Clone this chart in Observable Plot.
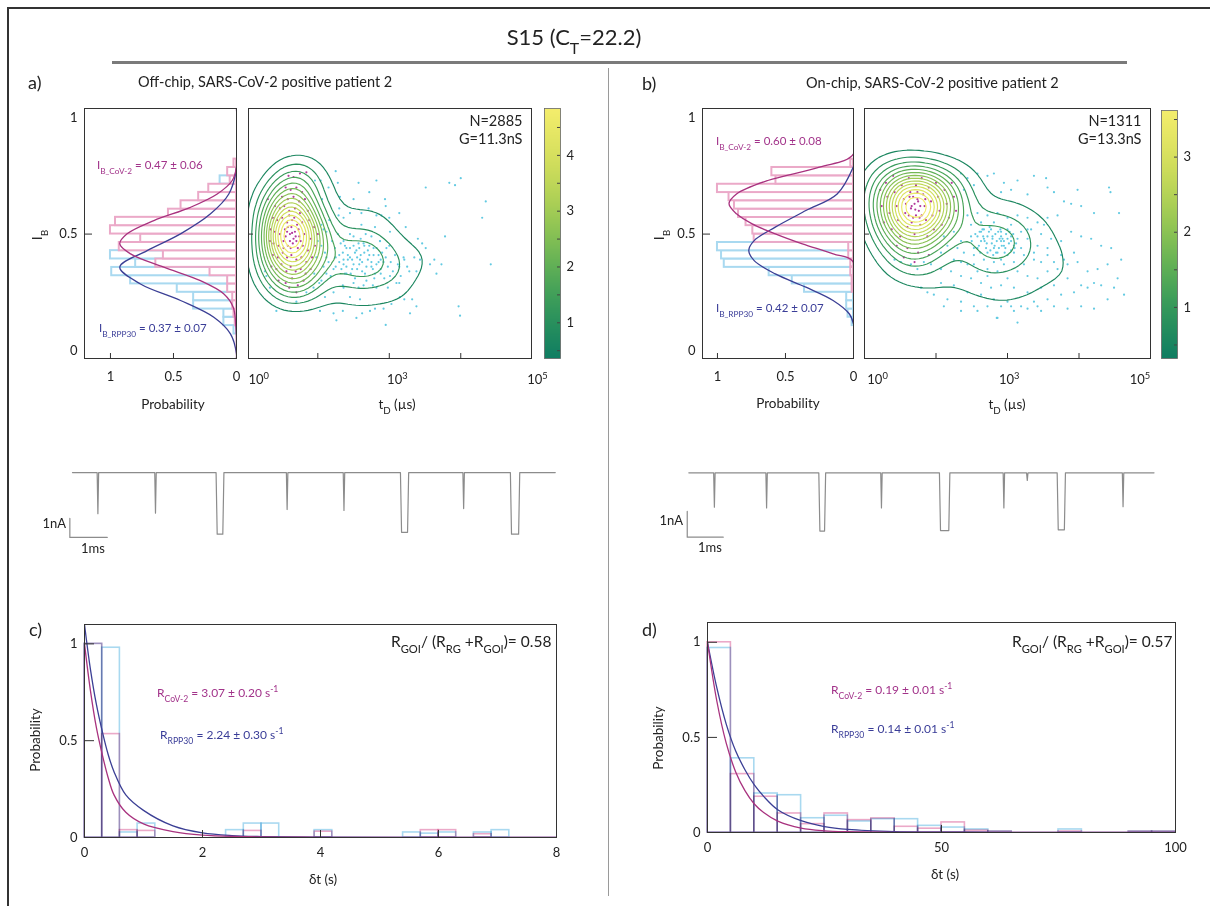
<!DOCTYPE html>
<html><head><meta charset="utf-8">
<script src="https://cdn.jsdelivr.net/npm/d3@7"></script>
<script src="https://cdn.jsdelivr.net/npm/@observablehq/plot@0.6"></script>
<style>
body{margin:0;background:#fff;}
#page{position:relative;width:1210px;height:906px;overflow:hidden;font-family:Lato,"Open Sans",sans-serif;color:#222;background:#fff;}
.abs{position:absolute;white-space:nowrap;line-height:1;}
.s{font-size:0.72em;position:relative;top:0.55em;}
.p{font-size:0.72em;position:relative;top:-0.55em;}
.deco{position:absolute;}
</style></head><body><div id="page"></div>
<script>
// ======================= DATA =======================
// I_B histograms (panels a, b): bin centres, normalised probability
const ibBins = [0.089,0.125,0.161,0.196,0.232,0.268,0.304,0.339,0.375,0.411,0.446,0.482,0.518,0.554,0.589,0.625,0.661,0.696,0.732,0.768,0.804];
const ibBinHeight = 0.0357;
const aHistCoV = [0,0.01,0.02,0.03,0.03,0.07,0.07,0.21,0.64,0.58,0.93,0.76,1.0,0.96,0.54,0.44,0.30,0.22,0.05,0.07,0.02];
const aHistRPP = [0.02,0.10,0.10,0.34,0.34,0.47,0.84,0.99,0.80,1.0,0.68,0.55,0.41,0.25,0.20,0.15,0.12,0.10,0.13,0.05,0];
const bHistCoV = [0,0,0,0,0,0.01,0.01,0.02,0.02,0.035,0.035,0.73,0.74,0.79,0.845,0.875,0.915,1.0,0.57,0.60,0.02];
const bHistRPP = [0,0.01,0.04,0.05,0.05,0.36,0.45,0.62,0.95,0.97,1.0,0.70,0.55,0.45,0.35,0.25,0.22,0.15,0.12,0.05,0];
// Gaussian fit curves: [I_B, probability]
const aFitCoV = [[1.04,0],[0.789,0],[0.730,0.034],[0.672,0.153],[0.615,0.365],[0.558,0.656],[0.501,0.868],[0.458,0.926],[0.415,0.84],[0.358,0.577],[0.300,0.286],[0.243,0.10],[0.186,0.026],[0.100,0.005],[-0.034,0]];
const aFitRPP = [[1.04,0],[0.783,0],[0.672,0.061],[0.587,0.206],[0.501,0.444],[0.429,0.709],[0.358,0.926],[0.286,0.762],[0.215,0.444],[0.143,0.18],[0.072,0.048],[-0.014,0],[-0.034,0]];
const bFitCoV = [[1.04,0],[0.844,0],[0.787,0.25],[0.730,0.63],[0.672,0.86],[0.630,0.915],[0.587,0.86],[0.544,0.745],[0.501,0.575],[0.458,0.376],[0.415,0.149],[0.379,0],[-0.034,0]];
const bFitRPP = [[0.79,0],[0.672,0.12],[0.601,0.35],[0.530,0.575],[0.472,0.73],[0.430,0.77],[0.386,0.73],[0.329,0.575],[0.272,0.35],[0.215,0.15],[0.157,0.03],[0.115,0]];
const ibFitLabels = {a: ["0.47 ± 0.06", "0.37 ± 0.07"], b: ["0.60 ± 0.08", "0.42 ± 0.07"]};

// Scatter (log10 t_D in µs, I_B)
const aCyan = [[1.25,0.77],[0.96,0.73],[1.04,0.73],[1.28,0.72],[1.57,0.72],[1.82,0.73],[1.15,0.70],[2.51,0.70],[2.84,0.72],[2.92,0.71],[3.00,0.74],
[1.06,0.65],[1.31,0.66],[1.72,0.68],[1.50,0.65],[1.94,0.65],[1.95,0.62],[1.30,0.61],[1.71,0.61],[1.82,0.58],[3.35,0.64],[3.30,0.57],
[2.14,0.59],[2.00,0.57],[1.89,0.58],[1.61,0.59],[1.45,0.59],[1.29,0.58],[1.16,0.56],[1.05,0.54],[1.08,0.52],[1.36,0.57],[1.61,0.54],[1.80,0.53],[2.23,0.53],[2.01,0.51],
[2.40,0.48],[2.78,0.49],[2.46,0.46],[2.51,0.44],[2.35,0.40],[2.21,0.39],[2.43,0.39],[2.63,0.39],[2.73,0.37],[3.42,0.37],[2.28,0.34],[2.57,0.37],[2.66,0.33],[2.38,0.34],[2.14,0.36],
[2.01,0.32],[1.88,0.33],[1.79,0.31],[2.14,0.29],[1.98,0.27],[2.15,0.23],[2.21,0.22],[2.32,0.22],[2.38,0.19],[2.29,0.16],[2.03,0.20],[1.92,0.18],[1.80,0.18],[1.73,0.17],[1.62,0.16],[1.54,0.14],
[1.35,0.17],[1.26,0.13],[1.22,0.16],[1.03,0.17],[0.70,0.21],[0.42,0.17],[2.97,0.19],[2.99,0.15],[1.95,0.11],
[0.94,0.27],[0.84,0.25],[1.05,0.30],[1.12,0.33],[1.22,0.35],[1.36,0.37],[1.45,0.40],[1.54,0.43],[1.64,0.46],[1.75,0.49],[1.87,0.47],[1.96,0.44],[1.12,0.40],[1.24,0.44],[1.36,0.47],[1.50,0.49],[1.59,0.39],[1.40,0.33],[1.50,0.29],[1.64,0.28],[1.82,0.27],[1.36,0.27],[1.22,0.25],[1.10,0.23],[1.59,0.22],[1.45,0.23],
[0.26,0.34],[0.28,0.32],[0.33,0.27],
[1.05,0.45],[1.10,0.42],[1.15,0.38],[1.20,0.47],[1.25,0.36],[1.30,0.41],[1.32,0.46],[1.38,0.33],[1.40,0.44],[1.42,0.39],[1.48,0.35],[1.50,0.45],[1.52,0.31],[1.55,0.40],[1.58,0.37],[1.60,0.48],[1.62,0.34],[1.65,0.42],[1.68,0.30],[1.70,0.39],[1.72,0.45],[1.75,0.36],[1.78,0.41],[1.80,0.33],[1.82,0.44],[1.85,0.38],[1.88,0.35],[1.90,0.42],[1.93,0.31],[1.95,0.40],[1.98,0.36],[2.02,0.38],[2.05,0.34],[2.08,0.41],[2.12,0.37],[2.16,0.32],[2.20,0.40],[1.12,0.51],[1.18,0.32],[1.28,0.50],[1.35,0.28],[1.45,0.50],[1.57,0.27],[1.67,0.50],[1.77,0.28],[1.87,0.47],[2.00,0.45],[2.10,0.29],[2.25,0.36],[1.08,0.36],[0.98,0.40],[1.00,0.47],[0.95,0.33],[1.02,0.29],
[1.30,0.38],[1.35,0.42],[1.40,0.36],[1.45,0.44],[1.48,0.39],[1.52,0.42],[1.55,0.35],[1.58,0.44],[1.62,0.38],[1.65,0.45],[1.68,0.36],[1.72,0.41],[1.75,0.38],[1.78,0.44],[1.82,0.37],[1.85,0.41],[1.88,0.39],[1.42,0.41],[1.38,0.45],[1.60,0.41],[1.70,0.43],[1.50,0.37],[1.33,0.35],[1.92,0.38],[1.66,0.33],[1.46,0.33],[1.57,0.46],[1.77,0.35],[1.25,0.40],[1.36,0.39]];
const aPink = [[0.59,0.75],[0.66,0.745],[0.75,0.76],[0.84,0.765],[0.55,0.70],[0.62,0.69],[0.70,0.70],[0.78,0.68],[0.50,0.66],[0.58,0.65],[0.66,0.66],[0.74,0.64],[0.82,0.65],[0.30,0.65],[0.40,0.62],[0.47,0.61],[0.53,0.62],[0.60,0.60],[0.68,0.61],[0.75,0.59],[0.86,0.60],[0.37,0.57],[0.43,0.56],[0.50,0.57],[0.57,0.55],[0.64,0.56],[0.71,0.54],[0.78,0.55],[0.88,0.56],[0.95,0.53],[0.34,0.52],[0.40,0.51],[0.47,0.50],[0.54,0.52],[0.61,0.50],[0.68,0.51],[0.74,0.49],[0.81,0.50],[0.90,0.48],[1.00,0.50],[0.33,0.47],[0.38,0.46],[0.45,0.45],[0.52,0.47],[0.58,0.45],[0.65,0.46],[0.72,0.44],[0.79,0.45],[0.86,0.43],[0.96,0.45],[0.37,0.41],[0.44,0.40],[0.51,0.42],[0.57,0.40],[0.63,0.41],[0.70,0.39],[0.77,0.40],[0.84,0.38],[0.92,0.40],[0.35,0.36],[0.42,0.35],[0.49,0.37],[0.56,0.34],[0.62,0.36],[0.69,0.34],[0.76,0.35],[0.83,0.33],[0.90,0.35],[0.45,0.30],[0.55,0.29],[0.64,0.31],[0.72,0.28],[0.80,0.30],[0.60,0.27],[0.70,0.25],[0.58,0.53],[0.66,0.48],[0.63,0.53],[0.70,0.47],[0.55,0.49],[0.62,0.44],[0.67,0.57],[0.73,0.52],[0.60,0.58],[0.76,0.47],[0.52,0.44],[0.64,0.505],[0.69,0.49],[0.61,0.47],[0.57,0.51]];
const bCyan = [[1.35,0.76],[1.44,0.74],[1.58,0.76],[1.72,0.75],[1.81,0.76],[1.95,0.72],[2.14,0.73],[2.37,0.75],[2.54,0.74],[2.56,0.70],[2.65,0.68],[2.79,0.64],[2.89,0.63],[3.03,0.62],[3.21,0.59],[3.42,0.70],[3.44,0.68],[3.56,0.59],[2.98,0.69],[2.28,0.67],[2.05,0.69],[1.91,0.68],[1.53,0.71],[1.39,0.69],
[1.11,0.49],[1.25,0.51],[1.35,0.47],[1.49,0.49],[1.63,0.51],[1.77,0.52],[1.91,0.51],[2.05,0.49],[2.19,0.51],[2.33,0.52],[2.47,0.50],[2.61,0.48],[2.75,0.47],[2.89,0.51],[3.03,0.49],[3.17,0.48],[3.31,0.45],[3.45,0.44],[3.59,0.39],[2.93,0.42],[2.75,0.41],[2.56,0.41],[2.37,0.39],[2.23,0.41],[2.09,0.38],[1.95,0.37],[1.81,0.38],[1.67,0.39],[1.53,0.41],[1.39,0.42],[1.30,0.44],[1.16,0.45],[1.07,0.42],[1.25,0.39],[1.44,0.37],[1.58,0.34],[1.72,0.32],[1.86,0.34],[2.00,0.31],[2.14,0.34],[2.28,0.32],[2.42,0.31],[2.56,0.34],[2.70,0.35],[2.84,0.37],[2.98,0.38],[3.12,0.34],[3.26,0.35],[3.40,0.37],[3.54,0.31],[3.21,0.29],[3.03,0.28],[2.84,0.31],[2.65,0.28],[2.47,0.27],[2.28,0.25],[2.09,0.27],[1.91,0.28],[1.77,0.27],[1.63,0.29],[1.49,0.31],[1.35,0.32],[1.21,0.34],[1.07,0.35],[0.93,0.37],[0.83,0.38],[0.74,0.35],[0.65,0.37],[0.51,0.38],[0.42,0.39],
[0.79,0.27],[0.88,0.25],[1.07,0.29],[1.25,0.28],[1.44,0.25],[1.63,0.24],[1.81,0.22],[2.00,0.21],[2.19,0.19],[2.37,0.21],[2.56,0.22],[2.75,0.24],[2.93,0.25],[3.12,0.27],[3.31,0.28],[3.49,0.27],[3.63,0.24],[3.03,0.19],[2.84,0.18],[2.65,0.19],[2.47,0.17],[2.28,0.18],[2.09,0.17],[1.91,0.19],[1.72,0.19],[1.53,0.19],[1.35,0.21],[1.16,0.22],[0.97,0.24],[1.11,0.19],[1.35,0.17],[1.58,0.17],[1.86,0.14],[2.14,0.12],[2.42,0.19],[3.21,0.18],[3.40,0.22],[2.05,0.19],[1.85,0.14],
[1.44,0.58],[1.58,0.59],[1.72,0.58],[1.86,0.59],[2.00,0.57],[2.14,0.58],[2.28,0.57],[2.42,0.55],[2.56,0.57],[2.70,0.58],[1.63,0.55],[1.81,0.55],[2.05,0.54],[2.28,0.52],[2.51,0.54],[1.49,0.54],[1.67,0.48],[1.91,0.47],[2.09,0.45],[2.28,0.48],[2.42,0.45],[2.56,0.44],[1.58,0.44],[1.81,0.44],[2.00,0.41],[2.19,0.44],[2.37,0.42],[1.35,0.38],[1.53,0.37],[1.72,0.35],[1.91,0.39],[2.09,0.42],[2.23,0.37],[2.47,0.38],[2.65,0.38],[2.79,0.39],[1.86,0.42],[2.05,0.47],[1.72,0.42],[1.63,0.47],[1.95,0.45],[2.14,0.48],[1.79,0.49],[1.91,0.49],[2.00,0.52],[1.67,0.52],
[1.50,0.47],[1.55,0.50],[1.60,0.45],[1.65,0.52],[1.70,0.44],[1.72,0.49],[1.75,0.53],[1.78,0.46],[1.80,0.41],[1.83,0.50],[1.85,0.47],[1.88,0.44],[1.90,0.52],[1.93,0.48],[1.96,0.42],[1.98,0.50],[2.02,0.46],[2.05,0.43],[2.08,0.50],[2.12,0.46],[1.58,0.49],[1.62,0.42],[1.68,0.47],[1.76,0.43],[1.82,0.45],[1.87,0.51],[1.92,0.45],[2.00,0.48],[1.74,0.51],[1.95,0.47],[1.66,0.49],[1.84,0.42],[2.10,0.44],[1.53,0.44],[1.79,0.48],[1.89,0.48],[1.71,0.46],[2.03,0.51],[1.61,0.51],[1.97,0.44]];
const bPink = [[0.22,0.69],[0.24,0.62],[0.27,0.55],[0.30,0.72],[0.32,0.66],[0.35,0.59],[0.38,0.52],[0.40,0.75],[0.42,0.68],[0.45,0.62],[0.47,0.56],[0.50,0.49],[0.52,0.71],[0.55,0.65],[0.57,0.59],[0.60,0.53],[0.62,0.74],[0.64,0.68],[0.66,0.62],[0.68,0.57],[0.70,0.50],[0.72,0.71],[0.74,0.65],[0.76,0.60],[0.78,0.54],[0.80,0.74],[0.82,0.67],[0.84,0.62],[0.86,0.56],[0.88,0.49],[0.90,0.70],[0.93,0.64],[0.95,0.58],[0.97,0.52],[1.00,0.72],[1.03,0.66],[1.05,0.60],[1.08,0.54],[1.12,0.69],[1.15,0.63],[1.18,0.57],[1.22,0.72],[1.25,0.66],[1.28,0.60],[0.45,0.45],[0.60,0.44],[0.75,0.42],[0.90,0.41],[0.55,0.40],[0.70,0.38],[0.65,0.61],[0.70,0.63],[0.75,0.64],[0.68,0.66],[0.72,0.58],[0.78,0.62],[0.62,0.58],[0.80,0.58],[0.66,0.55],[0.74,0.68],[0.58,0.63],[0.85,0.65],[0.71,0.605],[0.77,0.57],[0.63,0.66]];
const aPinkWeight = 5, bPinkWeight = 7.5;
const aBandwidth = 14, bBandwidth = 17;
const scatterNotes = {a: "N=2885\nG=11.3nS", b: "N=1311\nG=13.3nS"};
const logTickMarks = [1, 2, 3];
const logTickLabels = ["10<span class=p>0</span>", "10<span class=p>3</span>", "10<span class=p>5</span>"];
const aLogLabelPos = [0.18, 2.12, 4.08];
const bLogLabelPos = [0.19, 2.03, 3.86];

// Colour bars
const aColorDomain = [0.36, 4.84], aColorTicks = [1, 2, 3, 4], aColorMinor = [0.5, 1.5, 2.5, 3.5, 4.5];
const bColorDomain = [0.32, 3.62], bColorTicks = [1, 2, 3], bColorMinor = [0.5, 1.5, 2.5, 3.5];
const colormap = ["#0f7d62", "#3a9e59", "#8ac352", "#cfdc58", "#f4ed6c"];

// Current traces: event start / end (ms) and depth (nA)
const aEvtStart = [0.66, 2.20, 3.84, 5.72, 7.24, 8.77, 10.44, 11.71];
const aEvtEnd   = [0.70, 2.24, 4.05, 5.76, 7.28, 8.99, 10.48, 11.96];
const aEvtDepth = [2.17, 2.14, 3.25, 1.95, 2.00, 3.15, 1.90, 3.25];
const aTraceEnd = 12.91;
const aScaleBar = [-0.07, -3.42];
const bEvtStart = [0.69, 2.14, 3.61, 5.33, 6.96, 8.73, 9.38, 10.23, 12.04];
const bEvtEnd   = [0.73, 2.18, 3.80, 5.37, 7.25, 8.77, 9.42, 10.46, 12.08];
const bEvtDepth = [1.34, 1.37, 2.27, 1.37, 2.25, 1.37, 0.30, 2.22, 1.32];
const bTraceEnd = 12.92;
const bScaleBar = [-0.044, -2.506];

// Inter-event time histograms (panels c, d): bin left edges, normalised probability
const cBinLeft = [0,0.3,0.6,0.9,1.2,1.5,1.8,2.1,2.4,2.7,3.0,3.3,3.6,3.9,4.2,4.5,4.8,5.1,5.4,5.7,6.0,6.3,6.6,6.9,7.2,7.5,7.8];
const cBinWidth = 0.3;
const cCoV = [1.0,0.534,0.038,0.034,0,0,0,0,0,0.034,0,0,0,0.03,0,0,0,0,0,0.038,0.038,0,0.017,0,0,0,0];
const cRPP = [1.0,0.98,0.026,0.072,0,0,0,0,0.038,0.072,0.072,0,0,0.038,0,0,0,0,0.026,0.02,0.026,0,0.026,0.038,0,0,0];
const dBinLeft = [0,5,10,15,20,25,30,35,40,45,50,55,60,65,70,75,80,85,90,95];
const dBinWidth = 5;
const dCoV = [1.0,0.307,0.188,0.10,0.044,0.10,0.065,0.074,0.03,0.02,0.053,0.01,0.005,0,0,0.005,0,0,0.005,0.005];
const dRPP = [0.97,0.39,0.205,0.196,0.075,0.088,0.058,0.07,0.07,0.035,0.026,0.016,0.005,0,0,0.016,0,0,0.005,0.005];
// Exponential fit curves: [δt, probability]
const cFitCoV = [[0,1.0],[0.1,0.76],[0.2,0.57],[0.3,0.43],[0.4,0.31],[0.5,0.22],[0.7,0.13],[1.0,0.07],[1.5,0.03],[2.0,0.012],[3,0.003],[4,0.001],[8,0]];
const cFitRPP = [[0,1.10],[0.1,0.87],[0.2,0.69],[0.3,0.55],[0.4,0.43],[0.5,0.34],[0.7,0.22],[1.0,0.14],[1.5,0.06],[2.0,0.024],[2.5,0.01],[3,0.005],[4,0.002],[8,0]];
const dFitCoV = [[0,1.0],[2,0.69],[4,0.47],[6,0.32],[8,0.22],[10,0.15],[12,0.105],[15,0.06],[20,0.023],[25,0.009],[30,0.004],[40,0.001],[60,0],[100,0]];
const dFitRPP = [[0,1.0],[2,0.76],[4,0.57],[6,0.43],[8,0.33],[10,0.25],[12,0.19],[15,0.12],[20,0.062],[25,0.031],[30,0.016],[40,0.005],[60,0.001],[100,0]];
const rateLabels = {c: ["3.07 ± 0.20", "2.24 ± 0.30", "0.58"], d: ["0.19 ± 0.01", "0.14 ± 0.01", "0.57"]};

// ======================= STYLE =======================
const COL = {pinkBar:"#eba9c8", blueBar:"#a9d9f0", pinkLine:"#a8327f", blueLine:"#3b3f95",
  pinkText:"#a2338a", blueText:"#3a3d98", cyan:"#62cae2", magentaPt:"#b23a9c", frame:"#333", trace:"#8c8c8c"};
const cmapInterp = d3.interpolateRgbBasis(colormap);
const page = document.getElementById("page");
const ibDomain = [-0.034, 1.039];
const fmt = d => String(d);

function mkPlot(frame, pad, opts) {
  const [x0,y0,x1,y1] = frame, [pt,pr,pb,pl] = pad;
  const p = Plot.plot({
    width: x1-x0+pl+pr, height: y1-y0+pt+pb,
    marginTop: pt, marginRight: pr, marginBottom: pb, marginLeft: pl,
    style: {background:"transparent", fontFamily:"Lato, 'Open Sans', sans-serif", fontSize:"13px", color:"#222", overflow:"visible"},
    ...opts
  });
  p.style.position = "absolute"; p.style.left = (x0-pl)+"px"; p.style.top = (y0-pt)+"px";
  page.appendChild(p);
  p._left = x0-pl; p._top = y0-pt;
  return p;
}
function label(html, x, y, {size=13, anchor="middle", color="#222", rotate=0}={}) {
  const d = document.createElement("div");
  d.className = "abs"; d.innerHTML = html;
  d.style.fontSize = size+"px"; d.style.color = color;
  d.style.left = x+"px"; d.style.top = y+"px";
  const tx = anchor==="middle" ? "-50%" : anchor==="end" ? "-100%" : "0";
  d.style.transform = `translate(${tx},-50%)` + (rotate ? ` rotate(${rotate}deg)` : "");
  page.appendChild(d);
  return d;
}
function deco(x, y, w, h, color) {
  const d = document.createElement("div"); d.className = "deco";
  Object.assign(d.style, {left:x+"px", top:y+"px", width:w+"px", height:h+"px", background:color});
  page.appendChild(d);
}

// ======================= PAGE DECOR =======================
deco(7, 7, 1.5, 899, "#333");
deco(7, 7, 1203, 1.5, "#333");
deco(112, 60.5, 1015, 3, "#7a7a7a");
deco(607.5, 68, 1.5, 828, "#9a9a9a");
label("S15 (C<span class=s>T</span>=22.2)", 574, 37, {size: 22});
label("a)", 28, 82, {size: 18, anchor: "start"});
label("Off-chip, SARS-CoV-2 positive patient 2", 138, 82, {size: 14.5, anchor: "start"});
label("b)", 642, 83, {size: 18, anchor: "start"});
label("On-chip, SARS-CoV-2 positive patient 2", 806, 83, {size: 14.5, anchor: "start"});
label("c)", 29, 629, {size: 18, anchor: "start"});
label("d)", 642, 629, {size: 18, anchor: "start"});

// ======================= I_B HISTOGRAMS =======================
function histPanel(frame, xMax, covP, rppP, fitCoV, fitRPP) {
  const w = frame[2]-frame[0], h = frame[3]-frame[1];
  const rows = vals => ibBins.map((I,k) => ({I, p: vals[k]})).filter(d => d.p > 0);
  const bar = (vals, stroke) => Plot.rect(rows(vals), {x1: 0, x2: "p", y1: d => d.I - ibBinHeight/2, y2: d => d.I + ibBinHeight/2, fill: "white", stroke, strokeWidth: 2});
  return mkPlot(frame, [12, 6, 60, 60], {
    x: {domain: [xMax, 0], label: null}, y: {domain: ibDomain, label: null},
    marks: [
      bar(rppP, COL.blueBar),
      bar(covP, COL.pinkBar),
      Plot.line(fitRPP, {x: d => d[1], y: d => d[0], stroke: COL.blueLine, strokeWidth: 1.3, curve: "catmull-rom", clip: true}),
      Plot.line(fitCoV, {x: d => d[1], y: d => d[0], stroke: COL.pinkLine, strokeWidth: 1.3, curve: "catmull-rom", clip: true}),
      Plot.frame({stroke: COL.frame}),
      Plot.axisX([1, 0.5, 0], {tickSize: 0, tickPadding: 13, fontSize: 13, label: null, tickFormat: fmt}),
      Plot.tickX([1, 0.5, 0], {insetTop: h-5, stroke: COL.frame}),
      Plot.axisY([0, 0.5, 1], {tickSize: 0, tickPadding: 7, fontSize: 13, label: null, tickFormat: fmt}),
      Plot.tickY([0.5], {insetRight: w-8, stroke: COL.frame})
    ]
  });
}
histPanel([84,108,236,358], 1.206, aHistCoV, aHistRPP, aFitCoV, aFitRPP);
histPanel([702,108,853,358], 1.11, bHistCoV, bHistRPP, bFitCoV, bFitRPP);
function fitText(name, val, x, y, color) {
  label(`I<span class=s>B_${name}</span> = ${val}`, x, y, {size: 11.5, anchor: "start", color});
}
fitText("CoV-2", ibFitLabels.a[0], 97, 165, COL.pinkText);
fitText("RPP30", ibFitLabels.a[1], 99, 328, COL.blueText);
fitText("CoV-2", ibFitLabels.b[0], 716, 141, COL.pinkText);
fitText("RPP30", ibFitLabels.b[1], 716, 308, COL.blueText);
label("I<span class=s>B</span>", 37, 235, {size: 14, rotate: -90});
label("I<span class=s>B</span>", 659, 235, {size: 14, rotate: -90});
label("Probability", 173, 405, {size: 13.5});
label("Probability", 788, 404, {size: 13.5});

// ======================= SCATTERS =======================
function scatterPanel(frame, xDomain, cyan, pink, pinkWeight, bandwidth, note, labelPos) {
  const w = frame[2]-frame[0], h = frame[3]-frame[1];
  const pts = cyan.map(([x,y]) => ({x, y, w: 1})).concat(pink.map(([x,y]) => ({x, y, w: pinkWeight})));
  const p = mkPlot(frame, [10, 10, 60, 10], {
    x: {domain: xDomain, axis: null}, y: {domain: ibDomain, axis: null},
    color: {type: "linear", interpolate: cmapInterp},
    marks: [
      Plot.dot(cyan, {x: d => d[0], y: d => d[1], r: 1.1, fill: COL.cyan, stroke: null}),
      Plot.dot(pink, {x: d => d[0], y: d => d[1], r: 1.1, fill: COL.magentaPt, stroke: null}),
      Plot.density(pts, {x: "x", y: "y", weight: "w", bandwidth, thresholds: 15, stroke: "density", strokeWidth: 1.15, clip: true}),
      Plot.frame({stroke: COL.frame}),
      Plot.tickX(logTickMarks, {insetTop: h-5, stroke: COL.frame}),
      Plot.tickY([0.5], {insetRight: w-5, stroke: COL.frame}),
      Plot.text([note], {frameAnchor: "top-right", textAnchor: "end", lineAnchor: "top", dx: -9, dy: 5, fontSize: 14.5, lineHeight: 1.25, fill: "#222"})
    ]
  });
  const sx = p.scale("x");
  labelPos.forEach((v, i) => label(logTickLabels[i], p._left + sx.apply(v), frame[3] + 21, {size: 13}));
  return p;
}
scatterPanel([248,108,531,358], [0.03, 3.99], aCyan, aPink, aPinkWeight, aBandwidth, scatterNotes.a, aLogLabelPos);
scatterPanel([864,108,1150,358], [0, 4.0], bCyan, bPink, bPinkWeight, bBandwidth, scatterNotes.b, bLogLabelPos);
label("t<span class=s>D</span> (µs)", 397, 405, {size: 13.5});
label("t<span class=s>D</span> (µs)", 1007, 405, {size: 13.5});

// ======================= COLOUR BARS =======================
function colorbar(frame, domain, ticks, minor) {
  const w = frame[2]-frame[0];
  mkPlot(frame, [4, 30, 4, 2], {
    x: {domain: [0, 1], axis: null}, y: {domain, label: null},
    color: {type: "linear", domain, interpolate: cmapInterp},
    marks: [
      Plot.raster({fill: (x, y) => y, x1: 0, x2: 1, y1: domain[0], y2: domain[1], width: 2, height: 250}),
      Plot.frame({stroke: "#666", strokeWidth: 0.8}),
      Plot.tickY(minor.concat(ticks), {insetLeft: w-3, stroke: "#444"}),
      Plot.axisY(ticks, {anchor: "right", tickSize: 0, tickPadding: 6, fontSize: 13, label: null, tickFormat: fmt})
    ]
  });
}
colorbar([544,108,560,358], aColorDomain, aColorTicks, aColorMinor);
colorbar([1161,110,1177,358], bColorDomain, bColorTicks, bColorMinor);

// ======================= TRACES =======================
function buildTrace(starts, ends, depths, tEnd) {
  const pts = [[0, 0]];
  starts.forEach((s, k) => {
    const e = ends[k], d = depths[k], r = Math.min(0.03, (e - s) / 2);
    pts.push([s, 0], [s + r, -d], [e - r, -d], [e, 0]);
  });
  pts.push([tEnd, 0]);
  return pts;
}
function tracePanel(frame, tDomain, iDomain, trace, bar) {
  const [t0, i0] = bar;
  return mkPlot(frame, [0, 0, 0, 0], {
    x: {domain: tDomain, axis: null}, y: {domain: iDomain, axis: null},
    marks: [
      Plot.line(trace, {x: d => d[0], y: d => d[1], stroke: COL.trace, strokeWidth: 1.2}),
      Plot.line([[t0, i0 + 1], [t0, i0], [t0 + 1, i0]], {x: d => d[0], y: d => d[1], stroke: COL.trace, strokeWidth: 1.2})
    ]
  });
}
tracePanel([60,462,560,546], [-0.32, 13.05], [-3.9, 0.53], buildTrace(aEvtStart, aEvtEnd, aEvtDepth, aTraceEnd), aScaleBar);
tracePanel([675,462,1160,546], [-0.37, 13.1], [-2.87, 0.40], buildTrace(bEvtStart, bEvtEnd, bEvtDepth, bTraceEnd), bScaleBar);
label("1nA", 66, 523, {size: 13, anchor: "end"});
label("1ms", 93, 548, {size: 13});
label("1nA", 683, 520, {size: 13, anchor: "end"});
label("1ms", 710, 547, {size: 13});

// ======================= DWELL-TIME HISTOGRAMS =======================
function ratePanel(frame, xDomain, yDomain, binLeft, binW, cov, rpp, fitCoV, fitRPP, xTicks, xMarks) {
  const w = frame[2]-frame[0], h = frame[3]-frame[1];
  const rows = vals => binLeft.map((x, k) => ({x, v: vals[k]})).filter(d => d.v > 0);
  const bar = (vals, stroke) => Plot.rect(rows(vals), {x1: "x", x2: d => d.x + binW, y1: 0, y2: "v", fill: "none", stroke, strokeWidth: 1.6, mixBlendMode: "multiply"});
  return mkPlot(frame, [10, 10, 60, 60], {
    x: {domain: xDomain, label: null}, y: {domain: yDomain, label: null},
    marks: [
      bar(rpp, COL.blueBar),
      bar(cov, COL.pinkBar),
      Plot.line(fitRPP, {x: d => d[0], y: d => d[1], stroke: COL.blueLine, strokeWidth: 1.3, curve: "catmull-rom", clip: true}),
      Plot.line(fitCoV, {x: d => d[0], y: d => d[1], stroke: COL.pinkLine, strokeWidth: 1.3, curve: "catmull-rom", clip: true}),
      Plot.frame({stroke: COL.frame}),
      Plot.axisX(xTicks, {tickSize: 0, tickPadding: 10, fontSize: 13, label: null, tickFormat: fmt}),
      Plot.tickX(xMarks, {insetTop: h-7, stroke: COL.frame}),
      Plot.axisY([0, 0.5, 1], {tickSize: 0, tickPadding: 7, fontSize: 13, label: null, tickFormat: fmt}),
      Plot.tickY([0.5, 1], {insetRight: w-10, stroke: COL.frame})
    ]
  });
}
ratePanel([84,624,556,837], [0, 8], [0, 1.10], cBinLeft, cBinWidth, cCoV, cRPP, cFitCoV, cFitRPP, [0, 2, 4, 6, 8], [2, 4, 6]);
ratePanel([707,622,1175,832], [0, 100], [0, 1.104], dBinLeft, dBinWidth, dCoV, dRPP, dFitCoV, dFitRPP, [0, 50, 100], [50]);
function rateText(name, val, x, y, color) {
  label(`R<span class=s>${name}</span>&nbsp;= ${val} s<span class=p>-1</span>`, x, y, {size: 12, anchor: "start", color});
}
rateText("CoV-2", rateLabels.c[0], 157, 693, COL.pinkText);
rateText("RPP30", rateLabels.c[1], 160, 735, COL.blueText);
rateText("CoV-2", rateLabels.d[0], 831, 690, COL.pinkText);
rateText("RPP30", rateLabels.d[1], 831, 729, COL.blueText);
function ratioText(val, x, y) {
  label(`R<span class=s>GOI</span>/ (R<span class=s>RG</span> +R<span class=s>GOI</span>)= ${val}`, x, y, {size: 15.5, anchor: "start"});
}
ratioText(rateLabels.c[2], 391, 642);
ratioText(rateLabels.d[2], 1012, 642);
label("Probability", 36, 740, {size: 13.5, rotate: -90});
label("Probability", 659, 738, {size: 13.5, rotate: -90});
label("δt (s)", 323, 880, {size: 13.5});
label("δt (s)", 945, 875, {size: 13.5});
</script></body></html>
